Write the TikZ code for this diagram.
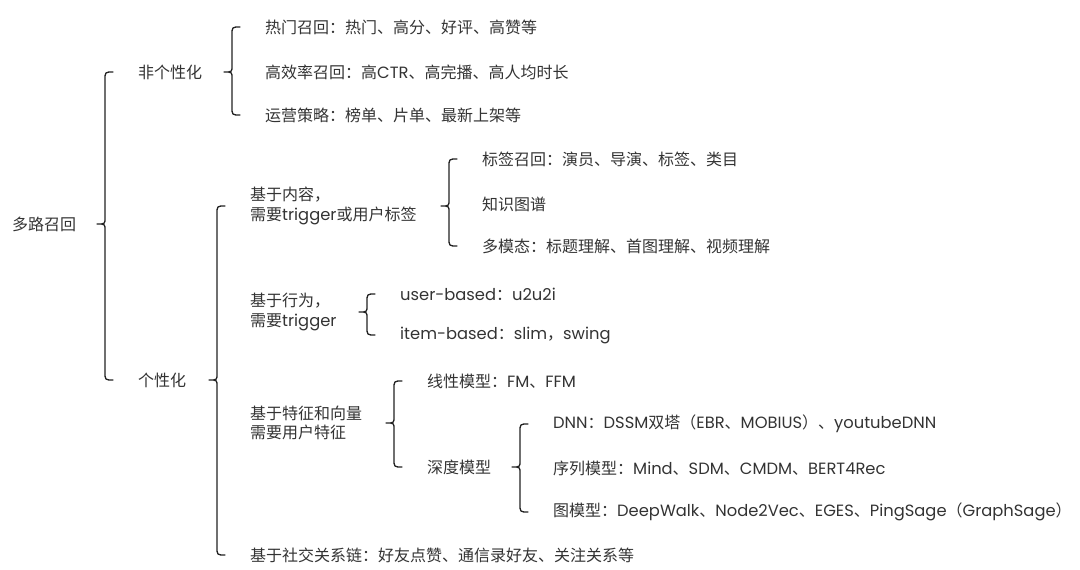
\documentclass[tikz,border=0pt]{standalone}
\usepackage{fontspec}
\setmainfont[Scale=1.02]{Poppins}
\newfontfamily\latinfont[Scale=1.02]{Poppins}
\newfontfamily\cjk{Noto Sans CJK SC}
\usepackage{xcolor}
\definecolor{tree-text}{HTML}{333333}
\definecolor{tree-line}{HTML}{222222}
\usepackage{tikz}
\usetikzlibrary{calc}

% switch to the CJK family for Chinese characters
\newXeTeXintercharclass\CJKclass
\newcount\cjkcode
\def\setcjkrange#1#2{\cjkcode=#1\relax
  \loop\XeTeXcharclass\cjkcode=\CJKclass\relax
  \ifnum\cjkcode<#2\relax\advance\cjkcode by 1\relax\repeat}
\setcjkrange{"3000}{"303F}
\setcjkrange{"4E00}{"9FFF}
\setcjkrange{"FF00}{"FFEF}
\XeTeXinterchartoks 0 \CJKclass = {\cjk}
\XeTeXinterchartoks 4095 \CJKclass = {\cjk}
\XeTeXinterchartoks \CJKclass 0 = {\latinfont}
\XeTeXinterchartoks \CJKclass 4095 = {\latinfont}
\XeTeXinterchartokenstate=1

% curly brace from a parent node to its first and last child
\newcommand{\joinbrace}[3]{%
  \draw[curly] let \p1=(#1.west), \p2=(#2.west), \p3=(#3.west) in
    (\x2-25pt,\y2) .. controls (\x2-33pt,\y2) .. (\x2-33pt,\y2-8pt)
    -- (\x2-33pt,\y1+6pt) .. controls (\x2-33pt,\y1) .. (\x2-41pt,\y1)
    .. controls (\x2-33pt,\y1) .. (\x2-33pt,\y1-6pt)
    -- (\x2-33pt,\y3+8pt) .. controls (\x2-33pt,\y3) .. (\x2-25pt,\y3);}

\begin{document}
\begin{tikzpicture}[
    x=1pt, y=-1pt,
    item/.style={
      anchor=west,
      inner sep=0pt,
      align=left,
      font=\fontsize{16}{19.5}\selectfont,
      text=tree-text
    },
    curly/.style={
      draw=tree-line,
      line width=1.3pt,
      line cap=round,
      line join=round
    }
  ]
    \useasboundingbox (0,0) rectangle (1080,570);

    % Root and first level
    \node[item] (root) at (12,224) {多路召回};
    \node[item] (np)   at (138,72)  {非个性化};
    \node[item] (pers) at (138,380) {个性化};

    % Non-personalised branch
    \node[item] (hot) at (265,27)  {热门召回：热门、高分、好评、高赞等};
    \node[item] (eff) at (265,72)  {高效率召回：高CTR、高完播、高人均时长};
    \node[item] (ops) at (265,115) {运营策略：榜单、片单、最新上架等};

    % Personalised branch
    \node[item] (cont) at (250,206) {基于内容，\\需要trigger或用户标签};
    \node[item] (beh)  at (250,312) {基于行为，\\需要trigger};
    \node[item] (feat) at (250,423) {基于特征和向量\\需要用户特征};
    \node[item] (soc)  at (250,555) {基于社交关系链：好友点赞、通信录好友、关注关系等};

    \node[item] (tag) at (482,159) {标签召回：演员、导演、标签、类目};
    \node[item] (kg)  at (482,204) {知识图谱};
    \node[item] (mm)  at (482,246) {多模态：标题理解、首图理解、视频理解};

    \node[item] (ub) at (400,294) {user-based：u2u2i};
    \node[item] (ib) at (400,335) {item-based：slim，swing};

    \node[item] (lin)  at (427,381) {线性模型：FM、FFM};
    \node[item] (deep) at (427,467) {深度模型};

    \node[item] (dnn)   at (553,424) {DNN：DSSM双塔（EBR、MOBIUS）、youtubeDNN};
    \node[item] (seq)   at (553,468) {序列模型：Mind、SDM、CMDM、BERT4Rec};
    \node[item] (graph) at (553,512) {图模型：DeepWalk、Node2Vec、EGES、PingSage（GraphSage）};

    % Braces
    \joinbrace{root}{np}{pers}
    \joinbrace{np}{hot}{ops}
    \joinbrace{pers}{cont}{soc}
    \joinbrace{cont}{tag}{mm}
    \joinbrace{beh}{ub}{ib}
    \joinbrace{feat}{lin}{deep}
    \joinbrace{deep}{dnn}{graph}
  \end{tikzpicture}
\end{document}
